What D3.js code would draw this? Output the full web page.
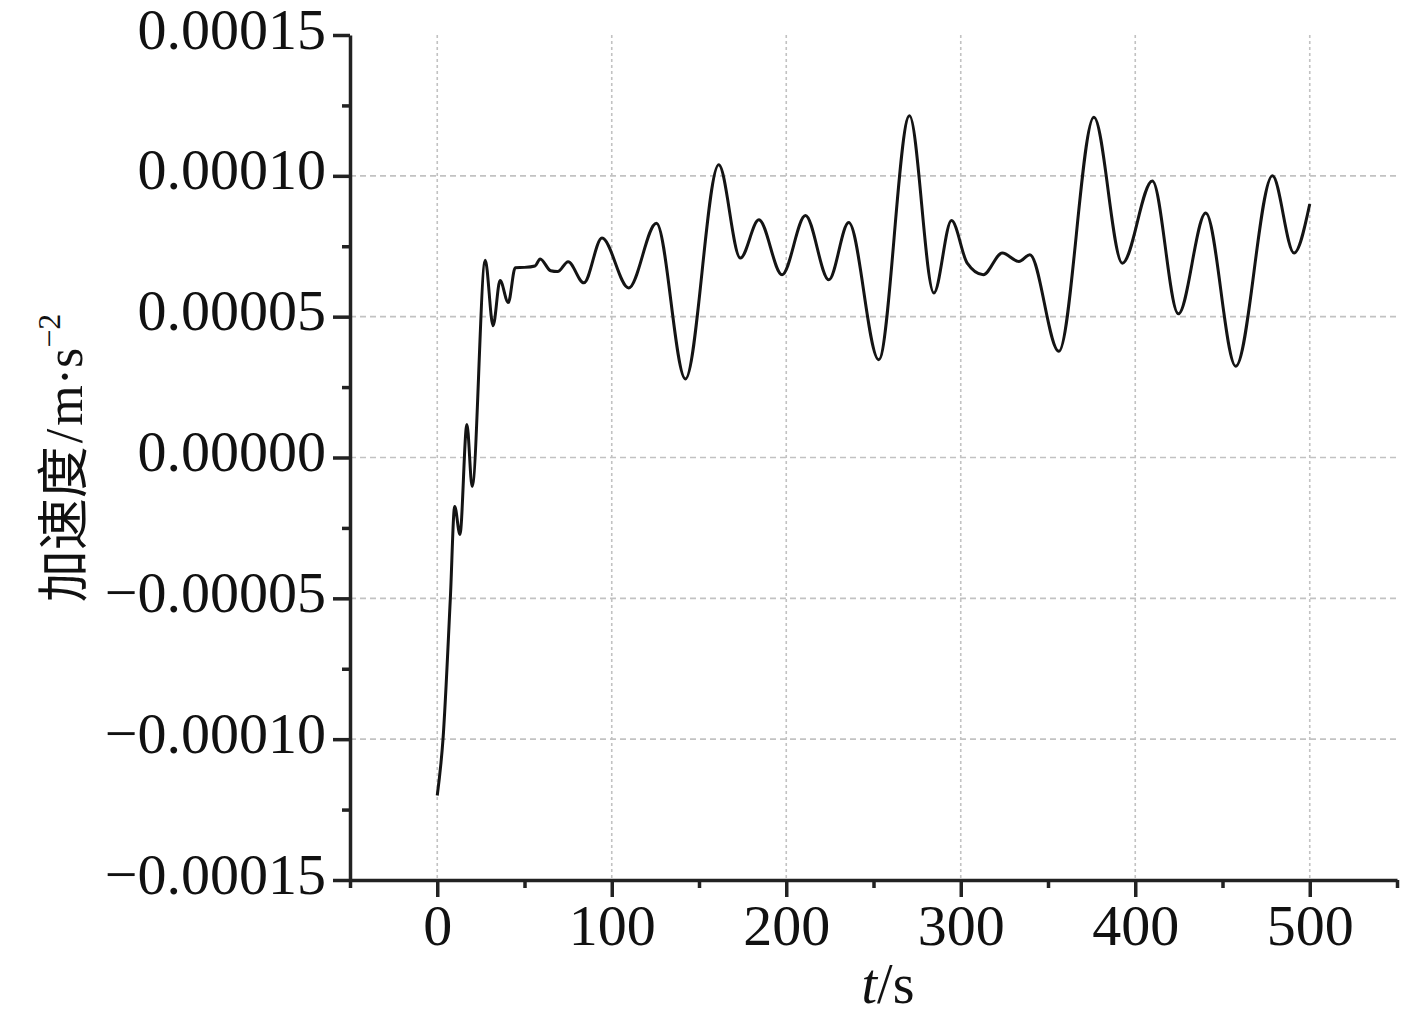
<!DOCTYPE html>
<html>
<head>
<meta charset="utf-8">
<script src="https://cdn.jsdelivr.net/npm/d3@7"></script>
<style>
  html, body { margin: 0; padding: 0; background: #fff; }
  svg { display: block; }
</style>
</head>
<body>
<svg id="chart" width="1417" height="1011"></svg>
<script>
// ---- data ----
const timeSeconds = [0, 3.3, 7.5, 10, 13, 17, 20, 27.5, 32, 36, 40.7, 44.7, 50, 56, 59, 65, 69, 75, 84,
  94.4, 109.7, 125.6, 142.2, 161.3, 173.7, 184.3, 197.6, 211, 224.4, 235.8, 253, 270.6, 284.6, 294.7,
  303.7, 312.9, 323.8, 333.3, 339.6, 356.2, 376.3, 392.6, 409.8, 424.7, 440.4, 457.6, 478.6, 491, 500];
const accelValues = [-12.0e-5, -10.0e-5, -5.0e-5, -1.74e-5, -2.73e-5, 1.17e-5, -1.03e-5, 7.0e-5, 4.68e-5,
  6.28e-5, 5.5e-5, 6.74e-5, 6.75e-5, 6.8e-5, 7.05e-5, 6.63e-5, 6.6e-5, 6.95e-5, 6.2e-5,
  7.79e-5, 6.02e-5, 8.32e-5, 2.79e-5, 10.39e-5, 7.08e-5, 8.44e-5, 6.49e-5, 8.59e-5, 6.31e-5, 8.34e-5,
  3.47e-5, 12.13e-5, 5.84e-5, 8.41e-5, 6.9e-5, 6.49e-5, 7.26e-5, 6.96e-5, 7.2e-5, 3.77e-5, 12.08e-5,
  6.9e-5, 9.82e-5, 5.1e-5, 8.68e-5, 3.24e-5, 10.0e-5, 7.26e-5, 9.0e-5];
const xMajorTicks = [0, 100, 200, 300, 400, 500];
const xMinorTicks = [-50, 50, 150, 250, 350, 450, 550];
const yMajorTicks = [-0.00015, -0.0001, -0.00005, 0, 0.00005, 0.0001, 0.00015];
const yMinorTicks = [-0.000125, -0.000075, -0.000025, 0.000025, 0.000075, 0.000125];
const xGridTicks = [0, 100, 200, 300, 400, 500];
const yGridTicks = [-0.0001, -0.00005, 0, 0.00005, 0.0001];

// ---- layout ----
const svg = d3.select("#chart");
const x = d3.scaleLinear().domain([-50, 550]).range([350, 1397]);
const y = d3.scaleLinear().domain([-0.00015, 0.00015]).range([880, 35]);
const serif = "'Liberation Serif', 'Times New Roman', 'DejaVu Serif', serif";
const axisColor = "#222";

// grid
const grid = svg.append("g").attr("stroke", "#c2c2c2").attr("stroke-width", 1.6);
grid.selectAll("line.v").data(xGridTicks).join("line").attr("class", "v")
  .attr("x1", d => x(d)).attr("x2", d => x(d))
  .attr("y1", y(0.00015)).attr("y2", y(-0.00015))
  .attr("stroke-dasharray", "3,3");
grid.selectAll("line.h").data(yGridTicks).join("line").attr("class", "h")
  .attr("x1", x(-50)).attr("x2", x(550))
  .attr("y1", d => y(d)).attr("y2", d => y(d))
  .attr("stroke-dasharray", "6,4");

// data line
const data = timeSeconds.map((t, i) => ({ t, a: accelValues[i] }));
const line = d3.line().x(d => x(d.t)).y(d => y(d.a)).curve(d3.curveMonotoneX);
svg.append("path").datum(data)
  .attr("d", line)
  .attr("fill", "none")
  .attr("stroke", "#141414")
  .attr("stroke-width", 3)
  .attr("stroke-linejoin", "round");

// axes
function styleAxis(g) {
  g.selectAll("path.domain").attr("stroke", axisColor).attr("stroke-width", 3.5);
  g.selectAll(".tick line").attr("stroke", axisColor).attr("stroke-width", 3.5);
  g.selectAll(".tick text").attr("font-family", serif).attr("font-size", 58).attr("fill", "#111");
}

const xMinor = svg.append("g").attr("transform", `translate(0,${y(-0.00015)})`)
  .call(d3.axisBottom(x).tickValues(xMinorTicks).tickSize(8).tickFormat(""));
xMinor.select("path.domain").remove();
styleAxis(xMinor);

const xMajor = svg.append("g").attr("transform", `translate(0,${y(-0.00015)})`)
  .call(d3.axisBottom(x).tickValues(xMajorTicks).tickSize(17).tickSizeOuter(0).tickPadding(7)
    .tickFormat(d3.format("d")));
styleAxis(xMajor);

const yMinor = svg.append("g").attr("transform", `translate(${x(-50)},0)`)
  .call(d3.axisLeft(y).tickValues(yMinorTicks).tickSize(8).tickFormat(""));
yMinor.select("path.domain").remove();
styleAxis(yMinor);

const yMajor = svg.append("g").attr("transform", `translate(${x(-50)},0)`)
  .call(d3.axisLeft(y).tickValues(yMajorTicks).tickSize(17).tickSizeOuter(0).tickPadding(7)
    .tickFormat(d3.format(".5f")));
styleAxis(yMajor);
yMajor.selectAll(".tick text").attr("dy", "0.224em");

// axis titles
const xt = svg.append("text")
  .attr("x", 888).attr("y", 1003)
  .attr("text-anchor", "middle")
  .attr("font-family", serif).attr("font-size", 56).attr("fill", "#111");
xt.append("tspan").attr("font-style", "italic").text("t");
xt.append("tspan").text("/s");

const yt = svg.append("text")
  .attr("transform", "translate(82,458) rotate(-90)")
  .attr("text-anchor", "middle")
  .attr("font-size", 52).attr("fill", "#111");
yt.append("tspan").attr("font-family", "'Noto Sans CJK SC', sans-serif").text("加速度");
yt.append("tspan").attr("font-family", serif).attr("dx", 3).text("/");
yt.append("tspan").attr("font-family", serif).attr("dx", 3).text("m·s");
yt.append("tspan").attr("font-family", serif).attr("font-size", 32).attr("dy", -22).text("−2");
</script>
</body>
</html>
